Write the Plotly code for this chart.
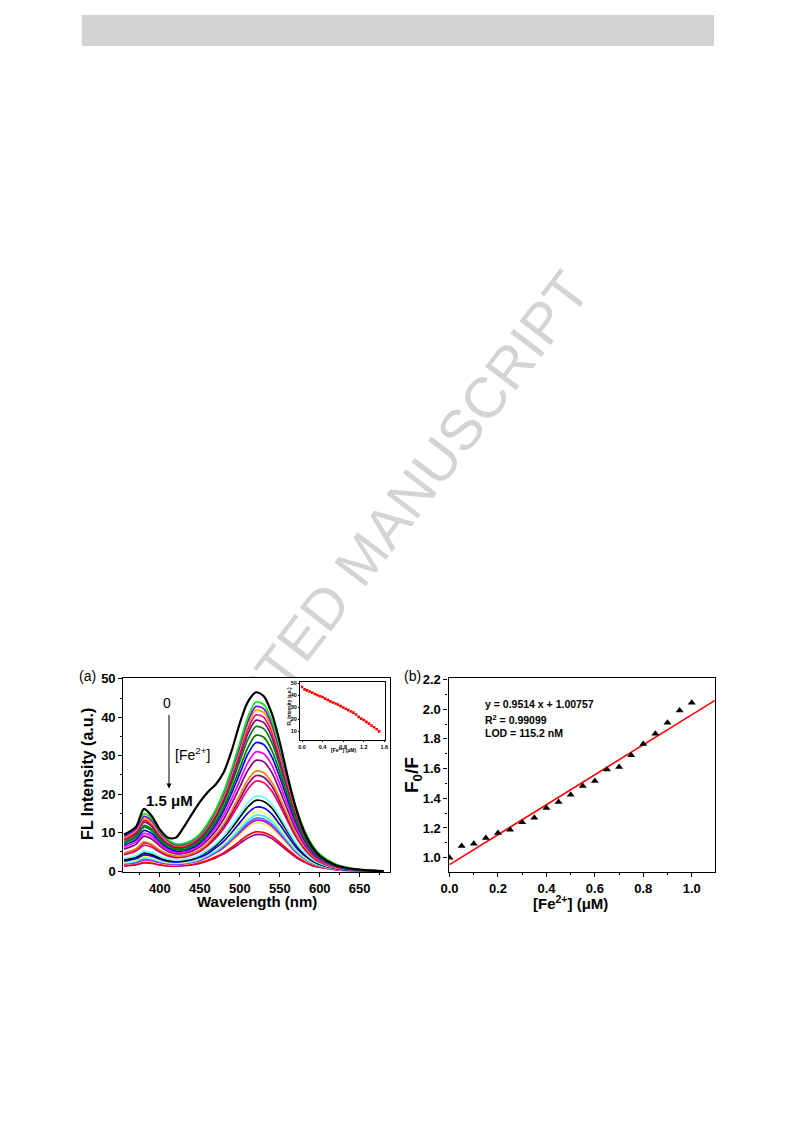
import plotly.graph_objects as go

FONT = "Liberation Sans, Arial, sans-serif"
W, H = 777, 1105           # figure size inside the page's default 8 px body margin
# picture-pixel extent covered by the figure (as photographed)
X0, X1 = 15.2, 782.1
Y0, Y1 = 12.9, 1105.8

# ---------------- data: panel (a) emission spectra ----------------
wavelength = [355, 370, 380, 390, 400, 410, 420, 430, 440, 450, 460, 470, 480, 490, 500,
              510, 520, 530, 540, 550, 560, 570, 580, 590, 600, 620, 640, 660, 680]

spectra = [
    [9.5, 11.5, 16.2, 14.2, 10.8, 8.7, 8.7, 11.5, 14.8, 18.0, 20.6, 22.6, 25.8, 31.5, 38.5, 44.0, 46.5, 45.5, 41.0, 33.5, 24.5, 16.5, 10.5, 6.5, 4.0, 1.5, 0.6, 0.2, 0.0],
    [9.4, 11.6, 14.9, 13.6, 10.5, 8.2, 7.1, 7.2, 8.0, 9.7, 12.5, 16.1, 20.8, 26.8, 33.4, 40.0, 44.0, 43.3, 39.2, 32.1, 24.2, 16.7, 11.0, 7.0, 4.4, 1.8, 0.7, 0.2, 0.0],
    [9.0, 11.0, 14.2, 13.0, 10.1, 7.9, 6.9, 6.9, 7.8, 9.4, 12.1, 15.7, 20.3, 26.1, 32.5, 38.9, 42.8, 42.2, 38.1, 31.2, 23.5, 16.3, 10.7, 6.8, 4.3, 1.7, 0.6, 0.2, 0.0],
    [8.6, 10.6, 13.7, 12.5, 9.7, 7.6, 6.7, 6.7, 7.6, 9.2, 11.8, 15.3, 19.8, 25.5, 31.8, 38.0, 41.8, 41.2, 37.2, 30.5, 23.0, 15.9, 10.5, 6.7, 4.2, 1.7, 0.6, 0.2, 0.0],
    [8.3, 10.2, 13.2, 12.1, 9.4, 7.4, 6.5, 6.5, 7.4, 8.9, 11.5, 14.9, 19.2, 24.8, 30.9, 36.9, 40.6, 40.0, 36.1, 29.6, 22.3, 15.4, 10.2, 6.5, 4.1, 1.6, 0.6, 0.2, 0.0],
    [8.0, 9.8, 12.7, 11.6, 9.0, 7.1, 6.2, 6.3, 7.1, 8.6, 11.1, 14.4, 18.5, 23.9, 29.8, 35.7, 39.2, 38.6, 34.9, 28.6, 21.6, 14.9, 9.8, 6.3, 3.9, 1.6, 0.6, 0.2, 0.0],
    [7.5, 9.2, 11.9, 10.9, 8.5, 6.7, 5.9, 6.0, 6.8, 8.2, 10.6, 13.8, 17.8, 22.9, 28.6, 34.2, 37.6, 37.0, 33.5, 27.4, 20.7, 14.3, 9.4, 6.0, 3.8, 1.5, 0.6, 0.2, 0.0],
    [7.2, 8.8, 11.4, 10.4, 8.1, 6.3, 5.6, 5.6, 6.4, 7.7, 10.0, 12.9, 16.7, 21.5, 26.8, 32.1, 35.3, 34.8, 31.4, 25.8, 19.4, 13.4, 8.8, 5.6, 3.5, 1.4, 0.5, 0.2, 0.0],
    [6.7, 8.2, 10.6, 9.7, 7.6, 6.0, 5.2, 5.3, 6.0, 7.3, 9.4, 12.2, 15.8, 20.4, 25.4, 30.4, 33.4, 32.9, 29.7, 24.4, 18.4, 12.7, 8.4, 5.3, 3.3, 1.3, 0.5, 0.2, 0.0],
    [6.2, 7.6, 9.8, 9.0, 7.0, 5.5, 4.9, 4.9, 5.6, 6.8, 8.8, 11.4, 14.7, 18.9, 23.6, 28.2, 31.0, 30.5, 27.6, 22.6, 17.1, 11.8, 7.8, 5.0, 3.1, 1.2, 0.5, 0.2, 0.0],
    [5.7, 7.0, 9.1, 8.3, 6.5, 5.1, 4.5, 4.6, 5.2, 6.3, 8.1, 10.5, 13.6, 17.6, 21.9, 26.2, 28.8, 28.4, 25.6, 21.0, 15.8, 10.9, 7.2, 4.6, 2.9, 1.2, 0.4, 0.1, 0.0],
    [4.7, 5.8, 7.6, 6.9, 5.4, 4.4, 3.9, 4.0, 4.6, 5.6, 7.3, 9.5, 12.3, 15.9, 19.8, 23.7, 26.0, 25.6, 23.1, 19.0, 14.3, 9.9, 6.5, 4.2, 2.6, 1.0, 0.4, 0.1, 0.0],
    [4.6, 5.6, 7.3, 6.7, 5.2, 4.2, 3.7, 3.9, 4.4, 5.4, 7.0, 9.1, 11.7, 15.1, 18.8, 22.6, 24.8, 24.4, 22.1, 18.1, 13.6, 9.4, 6.2, 4.0, 2.5, 1.0, 0.4, 0.1, 0.0],
    [4.2, 5.2, 6.7, 6.2, 4.9, 3.9, 3.5, 3.6, 4.2, 5.1, 6.6, 8.6, 11.1, 14.3, 17.8, 21.3, 23.4, 23.0, 20.8, 17.1, 12.9, 8.9, 5.9, 3.7, 2.3, 0.9, 0.4, 0.1, 0.0],
    [3.3, 4.0, 5.2, 4.8, 3.8, 3.1, 2.8, 3.0, 3.4, 4.2, 5.5, 7.1, 9.2, 11.9, 14.8, 17.7, 19.5, 19.2, 17.4, 14.2, 10.7, 7.4, 4.9, 3.1, 2.0, 0.8, 0.3, 0.1, 0.0],
    [2.9, 3.6, 4.7, 4.3, 3.4, 2.8, 2.6, 2.7, 3.2, 4.0, 5.2, 6.7, 8.7, 11.2, 14.0, 16.7, 18.4, 18.1, 16.4, 13.4, 10.1, 7.0, 4.6, 2.9, 1.8, 0.7, 0.3, 0.1, 0.0],
    [2.6, 3.2, 4.2, 3.9, 3.1, 2.5, 2.3, 2.5, 2.9, 3.6, 4.6, 6.1, 7.8, 10.1, 12.6, 15.1, 16.6, 16.4, 14.8, 12.1, 9.1, 6.3, 4.2, 2.7, 1.7, 0.7, 0.2, 0.1, 0.0],
    [2.3, 2.9, 3.8, 3.5, 2.8, 2.3, 2.1, 2.3, 2.7, 3.3, 4.3, 5.7, 7.3, 9.5, 11.8, 14.1, 15.5, 15.3, 13.8, 11.3, 8.5, 5.9, 3.9, 2.5, 1.6, 0.6, 0.2, 0.1, 0.0],
    [2.1, 2.6, 3.5, 3.2, 2.6, 2.1, 2.0, 2.1, 2.5, 3.1, 4.1, 5.3, 6.9, 8.8, 11.0, 13.2, 14.5, 14.3, 12.9, 10.6, 8.0, 5.5, 3.6, 2.3, 1.5, 0.6, 0.2, 0.1, 0.0],
    [2.0, 2.4, 3.1, 2.9, 2.3, 2.0, 1.9, 2.0, 2.4, 2.9, 3.8, 5.0, 6.5, 8.4, 10.4, 12.5, 13.7, 13.5, 12.2, 10.0, 7.5, 5.2, 3.4, 2.2, 1.4, 0.5, 0.2, 0.1, 0.0],
    [1.8, 2.2, 2.9, 2.7, 2.2, 1.9, 1.8, 1.9, 2.3, 2.8, 3.7, 4.8, 6.2, 8.1, 10.0, 12.0, 13.2, 13.0, 11.7, 9.6, 7.3, 5.0, 3.3, 2.1, 1.3, 0.5, 0.2, 0.1, 0.0],
    [1.7, 2.1, 2.7, 2.5, 2.1, 1.7, 1.7, 1.8, 2.1, 2.7, 3.5, 4.6, 5.9, 7.6, 9.5, 11.4, 12.5, 12.3, 11.1, 9.1, 6.9, 4.8, 3.1, 2.0, 1.3, 0.5, 0.2, 0.1, 0.0],
    [1.4, 1.8, 2.3, 2.1, 1.7, 1.4, 1.4, 1.5, 1.8, 2.2, 2.8, 3.7, 4.8, 6.2, 7.8, 9.3, 10.2, 10.0, 9.1, 7.4, 5.6, 3.9, 2.6, 1.6, 1.0, 0.4, 0.2, 0.1, 0.0],
    [1.3, 1.6, 2.1, 2.0, 1.6, 1.3, 1.3, 1.4, 1.6, 2.0, 2.7, 3.5, 4.5, 5.8, 7.2, 8.6, 9.5, 9.4, 8.5, 6.9, 5.2, 3.6, 2.4, 1.5, 1.0, 0.4, 0.1, 0.0, 0.0],
]
spectrum_colors = ["#000000", "#00ee00", "#8000ff", "#ffa000", "#ff0060", "#800080",
                   "#008000", "#007800", "#0000ff", "#ff00ff", "#800080", "#ff8000",
                   "#800080", "#ff0066", "#66ffff", "#000000", "#0000ff", "#ffff66",
                   "#33ffff", "#6666ff", "#cc00cc", "#eeee66", "#ff0000", "#990099"]

# inset of (a)
inset_conc = [0.0, 0.05, 0.1, 0.15, 0.2, 0.25, 0.3, 0.35, 0.4, 0.45, 0.5, 0.55, 0.6, 0.65, 0.7, 0.75,
              0.8, 0.85, 0.9, 0.95, 1.0, 1.05, 1.1, 1.15, 1.2, 1.25, 1.3, 1.35, 1.4, 1.45, 1.5]
inset_intensity = [47.0, 45.0, 44.2, 43.2, 42.2, 41.2, 40.2, 39.3, 38.6, 37.3, 36.2, 35.0, 34.0, 33.2,
                   32.2, 31.0, 29.8, 28.8, 27.6, 26.5, 25.5, 24.0, 22.0, 20.5, 19.3, 17.8, 16.3,
                   14.8, 13.3, 11.6, 9.8]

# ---------------- data: panel (b) ----------------
fe_conc = [0.0, 0.05, 0.1, 0.15, 0.2, 0.25, 0.3, 0.35, 0.4, 0.45, 0.5, 0.55, 0.6, 0.65, 0.7,
           0.75, 0.8, 0.85, 0.9, 0.95, 1.0]
f0_over_f = [1.0, 1.078, 1.094, 1.132, 1.166, 1.188, 1.238, 1.269, 1.334, 1.375, 1.424, 1.482,
             1.516, 1.594, 1.610, 1.689, 1.765, 1.834, 1.908, 1.991, 2.043]
fit_x = [0.0, 1.1]
fit_y = [0.953, 2.063]

x_ticks_a = [400, 450, 500, 550, 600, 650]
y_ticks_a = [0, 10, 20, 30, 40, 50]
x_ticks_b = [0.0, 0.2, 0.4, 0.6, 0.8, 1.0]
y_ticks_b = [1.0, 1.2, 1.4, 1.6, 1.8, 2.0, 2.2]


def px(x):
    """picture pixel -> paper fraction"""
    return (x - X0) / (X1 - X0)


def py(y):
    return 1 - (y - Y0) / (Y1 - Y0)


fig = go.Figure()

# background page layer (picture-pixel coordinates)
fig.add_trace(go.Scatter(x=[400], y=[500], xaxis="x", yaxis="y", mode="markers",
                         marker=dict(opacity=0, size=1), hoverinfo="skip", showlegend=False))

for i in range(len(spectra) - 1, -1, -1):
    fig.add_trace(go.Scatter(x=wavelength, y=spectra[i], xaxis="x2", yaxis="y2", mode="lines",
                             line=dict(color=spectrum_colors[i], width=2.2 if i == 0 else 1.7,
                                       shape="spline", smoothing=0.8),
                             showlegend=False, hoverinfo="skip", cliponaxis=True))

fig.add_trace(go.Scatter(x=fit_x, y=fit_y, xaxis="x3", yaxis="y3", mode="lines",
                         line=dict(color="#ff0000", width=1.6), showlegend=False))
fig.add_trace(go.Scatter(x=fe_conc, y=f0_over_f, xaxis="x3", yaxis="y3", mode="markers",
                         marker=dict(symbol="triangle-up", size=7, color="#000000"),
                         showlegend=False, cliponaxis=True))

fig.add_trace(go.Scatter(x=inset_conc, y=inset_intensity, xaxis="x4", yaxis="y4", mode="markers",
                         marker=dict(symbol="square", size=2.6, color="#ff0000"),
                         showlegend=False))

axis_common = dict(showline=True, linecolor="black", linewidth=1.3, mirror=True,
                   ticks="outside", ticklen=4, tickwidth=1.2, tickcolor="black",
                   showgrid=False, zeroline=False,
                   tickfont=dict(family=FONT, size=13, color="black", weight="bold"))
inset_common = dict(showline=True, linecolor="black", linewidth=0.9, mirror=True,
                    ticks="outside", ticklen=1.5, tickwidth=0.8, tickcolor="black",
                    showgrid=False, zeroline=False, ticklabelstandoff=0,
                    tickfont=dict(family=FONT, size=5.5, color="black", weight="bold"))

ya_dom = [py(871.7), py(677.3)]

fig.update_layout(
    width=W, height=H, autosize=False,
    margin=dict(l=0, r=0, t=0, b=0),
    paper_bgcolor="white", plot_bgcolor="white",
    xaxis=dict(domain=[0, 1], range=[X0, X1], visible=False, fixedrange=True),
    yaxis=dict(domain=[0, 1], range=[Y1, Y0], visible=False, fixedrange=True),
    xaxis2=dict(domain=[px(122.7), px(390)], range=[354.2, 688.4], anchor="y2",
                tickvals=x_ticks_a,
                minor=dict(ticks="outside", ticklen=2, tickwidth=1, tickcolor="black",
                           tickvals=[375, 425, 475, 525, 575, 625, 675]),
                **axis_common),
    yaxis2=dict(domain=ya_dom, range=[-0.26, 50.26], anchor="x2",
                tickvals=y_ticks_a,
                minor=dict(ticks="outside", ticklen=2, tickwidth=1, tickcolor="black",
                           tickvals=[5, 15, 25, 35, 45]),
                **axis_common),
    xaxis3=dict(domain=[px(448.3), px(715)], range=[-0.004, 1.096], anchor="y3",
                tickvals=x_ticks_b, ticktext=["0.0", "0.2", "0.4", "0.6", "0.8", "1.0"],
                minor=dict(ticks="outside", ticklen=2, tickwidth=1, tickcolor="black",
                           tickvals=[0.1, 0.3, 0.5, 0.7, 0.9]),
                **axis_common),
    yaxis3=dict(domain=ya_dom, range=[0.903, 2.211], anchor="x3",
                tickvals=y_ticks_b, ticktext=["1.0", "1.2", "1.4", "1.6", "1.8", "2.0", "2.2"],
                minor=dict(ticks="outside", ticklen=2, tickwidth=1, tickcolor="black",
                           tickvals=[1.1, 1.3, 1.5, 1.7, 1.9, 2.1]),
                **axis_common),
    xaxis4=dict(domain=[px(300), px(385)], range=[-0.03, 1.62], anchor="y4",
                tickvals=[0.0, 0.4, 0.8, 1.2, 1.6], ticktext=["0.0", "0.4", "0.8", "1.2", "1.6"],
                **inset_common),
    yaxis4=dict(domain=[py(739), py(681.7)], range=[3, 51], anchor="x4",
                tickvals=[10, 20, 30, 40, 50],
                **inset_common),
)

# page decorations: header bar and watermark (drawn beneath the panels)
fig.add_shape(type="rect", xref="x", yref="y", x0=81, x1=714, y0=14, y1=45,
              fillcolor="#d3d3d3", line=dict(width=0), layer="below")
fig.add_shape(type="rect", xref="x", yref="y", x0=355, x1=361, y0=551, y1=557,
              fillcolor="rgba(0,0,0,0)", line=dict(width=0, color="rgba(0,0,0,0)"),
              layer="below",
              label=dict(text="ACCEPTED MANUSCRIPT", textangle=-52.5, textposition="middle center",
                         font=dict(family=FONT, size=57, color="#d4d4d4")))


def ann(x, y, text, size, bold=False, angle=0, xanchor="center"):
    fig.add_annotation(x=px(x), y=py(y), xref="paper", yref="paper", text=text,
                       showarrow=False, textangle=angle, xanchor=xanchor, yanchor="middle",
                       font=dict(family=FONT, size=size, color="black",
                                 weight="bold" if bold else "normal"))


# panel (a) texts
ann(86.7, 675, "(a)", 14)
ann(86.7, 773, "FL Intensity (a.u.)", 16, bold=True, angle=-90)
ann(256.7, 900.7, "Wavelength (nm)", 15, bold=True)
ann(166.7, 702.7, "0", 14)
ann(191.7, 754, "[Fe<sup>2+</sup>]", 14)
ann(169, 800, "1.5 μM", 15, bold=True)
fig.add_annotation(x=411.3, y=21.5, xref="x2", yref="y2", text="", showarrow=True,
                   ax=0, ay=-75, axref="pixel", ayref="pixel",
                   arrowhead=2, arrowsize=1, arrowwidth=1, arrowcolor="black")
# inset titles
ann(289.5, 706, "FL Intensity (a.u.)", 4.6, bold=True, angle=-90)
ann(343, 750, "[Fe<sup>2+</sup>] (μM)", 5, bold=True)

# panel (b) texts
ann(411.7, 675, "(b)", 14)
ann(413.3, 775, "F<sub>0</sub>/F", 19, bold=True, angle=-90)
ann(570, 901.7, "[Fe<sup>2+</sup>] (μM)", 15, bold=True)
ann(482.7, 703.3, "y = 0.9514 x + 1.00757", 10.5, bold=True, xanchor="left")
ann(482.7, 719.3, "R<sup>2</sup> = 0.99099", 10.5, bold=True, xanchor="left")
ann(482.7, 732.7, "LOD = 115.2 nM", 10.5, bold=True, xanchor="left")

fig.write_html("out.html", config={"displayModeBar": False})
